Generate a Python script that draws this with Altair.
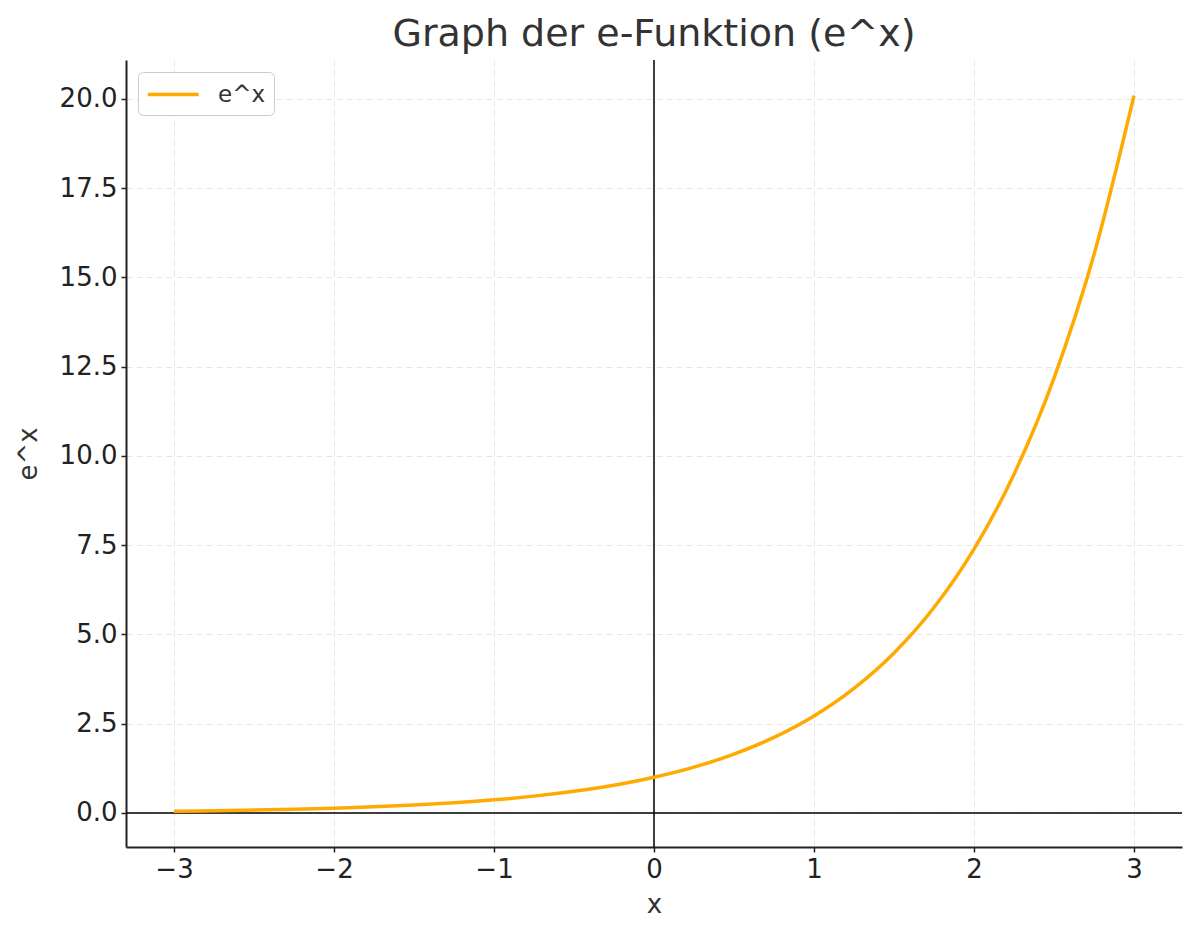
import altair as alt
import pandas as pd

# Values
x_vals = [-3.0, -2.75, -2.5, -2.25, -2.0, -1.75, -1.5, -1.25, -1.0, -0.75, -0.5, -0.25,
          0.0, 0.25, 0.5, 0.75, 1.0, 1.25, 1.5, 1.75, 2.0, 2.25, 2.5, 2.75, 3.0]
y_vals = [0.05, 0.064, 0.082, 0.105, 0.135, 0.174, 0.223, 0.287, 0.368, 0.472, 0.607, 0.779,
          1.0, 1.284, 1.649, 2.117, 2.718, 3.49, 4.482, 5.755, 7.389, 9.488, 12.18, 15.64, 20.09]
series_name = "e^x"
x_ticks = [-3, -2, -1, 0, 1, 2, 3]
y_ticks = [0.0, 2.5, 5.0, 7.5, 10.0, 12.5, 15.0, 17.5, 20.0]

df = pd.DataFrame({"x": x_vals, "y": y_vals, "series": [series_name] * len(x_vals)})

FONT = "DejaVu Sans"
LINE_COLOR = "#FFAA00"

x_scale = alt.Scale(domain=[-3.3, 3.3], nice=False, zero=False)
y_scale = alt.Scale(domain=[-0.953, 21.09], nice=False, zero=False)

base = alt.Chart(df)

line = base.mark_line(strokeWidth=3.5, interpolate="monotone").encode(
    x=alt.X("x:Q", scale=x_scale,
            axis=alt.Axis(title="x", values=x_ticks, format="d")),
    y=alt.Y("y:Q", scale=y_scale,
            axis=alt.Axis(title="e^x", values=y_ticks, format=".1f")),
    color=alt.Color("series:N", title=None,
                    scale=alt.Scale(domain=[series_name], range=[LINE_COLOR]),
                    legend=alt.Legend(orient="none", legendX=12, legendY=12,
                                      symbolType="M-1,0H3", symbolSize=650,
                                      symbolStrokeWidth=3.5, labelFontSize=23,
                                      labelFont=FONT, labelColor="#333333",
                                      labelOffset=43, padding=8,
                                      fillColor="white", strokeColor="#cccccc",
                                      cornerRadius=5)),
)

hrule = alt.Chart(pd.DataFrame({"v": [0]})).mark_rule(color="black", strokeWidth=1.5).encode(
    y=alt.Y("v:Q", scale=y_scale)
)
vrule = alt.Chart(pd.DataFrame({"v": [0]})).mark_rule(color="black", strokeWidth=1.5).encode(
    x=alt.X("v:Q", scale=x_scale)
)

chart = alt.layer(hrule, vrule, line).properties(
    width=1056,
    height=787,
    autosize=alt.AutoSizeParams(type="none"),
    padding={"left": 118, "top": 52, "right": 10, "bottom": 85},
    title=alt.TitleParams("Graph der e-Funktion (e^x)", font=FONT, fontSize=38,
                          fontWeight="normal", color="#333333", anchor="middle",
                          baseline="alphabetic", offset=12, dy=37),
).configure_view(stroke=None).configure_axis(
    labelFont=FONT, labelFontSize=26, labelColor="#222222",
    titleFont=FONT, titleFontSize=26, titleColor="#333333", titleFontWeight="normal",
    domainColor="#222222", domainWidth=2, tickColor="#222222", tickWidth=1.5, tickSize=5,
    labelPadding=4, grid=True, gridColor="#e6e6e6", gridDash=[6, 4], gridWidth=1,
).configure_axisX(titlePadding=9).configure_axisY(titlePadding=18)

chart.save("out.html", embed_options={"renderer": "svg", "actions": False})
